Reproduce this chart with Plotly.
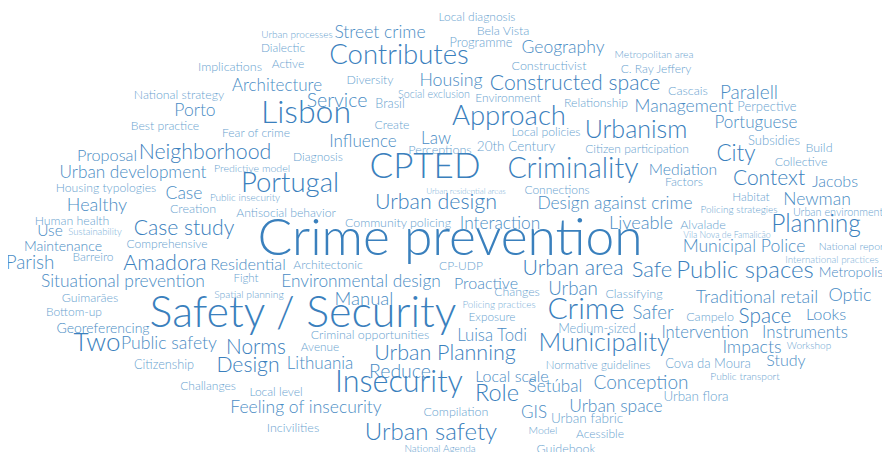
import plotly.graph_objects as go

# word cloud terms, their centre on the 890x452 canvas and their weight (font px)
words = [
    "Local diagnosis", "Bela Vista", "Urban processes", "Street crime", "Programme",
    "Geography", "Metropolitan area", "Dialectic", "Contributes", "Implications",
    "Active", "Constructivist", "C. Ray Jeffery", "National strategy", "Architecture",
    "Diversity", "Housing", "Constructed space", "Cascais", "Paralell",
    "Social exclusion", "Environment", "Service", "Porto", "Brasil",
    "Relationship", "Management", "Perpective", "Lisbon", "Approach",
    "Best practice", "Create", "Local policies", "Urbanism", "Portuguese",
    "Law", "Fear of crime", "Influence", "Perceptions", "20th Century",
    "Citizen participation", "Subsidies", "Build", "Proposal", "Neighborhood",
    "Diagnosis", "CPTED", "Criminality", "City", "Collective",
    "Urban development", "Predictive model", "Mediation", "Factors", "Urban residential areas",
    "Connections", "Context", "Jacobs", "Housing typologies", "Case",
    "Portugal", "Public insecurity", "Habitat", "Newman", "Healthy",
    "Creation", "Urban design", "Design against crime", "Policing strategies", "Urban environment",
    "Antisocial behavior", "Human health", "Community policing", "Interaction", "Liveable",
    "Alvalade", "Planning", "Use", "Sustainability", "Case study",
    "Crime prevention", "Vila Nova de Famalicão", "Municipal Police", "National report", "Maintenance",
    "Comprehensive", "Barreiro", "Parish", "Amadora", "Residential",
    "Architectonic", "CP-UDP", "Urban area", "Safe", "Public spaces",
    "International practices", "Metropolis", "Fight", "Situational prevention", "Environmental design",
    "Proactive", "Urban", "Classifying", "Guimarães", "Spatial planning",
    "Manual", "Changes", "Traditional retail", "Optic", "Bottom-up",
    "Safety / Security", "Policing practices", "Crime", "Safer", "Campelo",
    "Space", "Looks", "Exposure", "Georeferencing", "Medium-sized",
    "Criminal opportunities", "Intervention", "Instruments", "Two", "Public safety",
    "Norms", "Avenue", "Luisa Todi", "Municipality", "Impacts",
    "Workshop", "Urban Planning", "Citizenship", "Design", "Lithuania",
    "Study", "Cova da Moura", "Reduce", "Insecurity", "Normative guidelines",
    "Challanges", "Local scale", "Conception", "Public transport", "Local level",
    "Role", "Setúbal", "Urban space", "Urban flora", "Feeling of insecurity",
    "Compilation", "GIS", "Urban fabric", "Model", "Acessible",
    "Incivilities", "Urban safety", "Guidebook", "National Agenda",
]
word_x = [
    477, 503, 297, 380, 481,
    563, 654, 283, 399, 230,
    288, 549, 656, 179, 277,
    370, 451, 575, 688, 749,
    434, 508, 337, 195, 390,
    596, 684, 767, 306, 509,
    165, 392, 546, 636, 756,
    436, 256, 363, 440, 516,
    637, 774, 819, 107, 205,
    318, 425, 573, 736, 801,
    133, 252, 683, 684, 466,
    557, 769, 835, 106, 184,
    290, 245, 751, 817, 97,
    193, 436, 615, 739, 838,
    286, 72, 398, 500, 641,
    703, 816, 50, 95, 184,
    450, 727, 744, 853, 63,
    167, 93, 30, 165, 248,
    328, 461, 573, 652, 745,
    832, 851, 246, 123, 361,
    486, 573, 634, 90, 249,
    364, 517, 757, 850, 74,
    303, 499, 586, 653, 710,
    765, 826, 492, 103, 597,
    370, 705, 805, 97, 169,
    256, 320, 492, 604, 752,
    809, 445, 164, 248, 320,
    786, 708, 400, 399, 598,
    208, 512, 641, 745, 276,
    497, 555, 616, 696, 306,
    456, 534, 587, 543, 600,
    293, 431, 566, 440,
]
word_y = [
    14, 28, 31, 30, 40,
    45, 51, 45, 53, 64,
    61, 63, 66, 92, 83,
    77, 78, 81, 88, 90,
    91, 95, 98, 108, 101,
    100, 104, 104, 111, 114,
    123, 122, 129, 128, 120,
    136, 130, 139, 147, 144,
    146, 138, 145, 153, 150,
    154, 165, 167, 151, 159,
    170, 165, 167, 179, 188,
    187, 176, 179, 185, 191,
    181, 194, 194, 197, 202,
    206, 200, 201, 206, 209,
    210, 218, 220, 221, 220,
    222, 222, 228, 229, 226,
    238, 232, 244, 243, 243,
    241, 254, 260, 261, 262,
    262, 263, 266, 267, 268,
    257, 269, 275, 279, 279,
    281, 286, 291, 295, 291,
    296, 289, 295, 292, 309,
    312, 302, 307, 310, 314,
    314, 312, 314, 325, 326,
    332, 330, 330, 340, 341,
    345, 344, 333, 341, 345,
    342, 351, 362, 363, 361,
    358, 361, 369, 380, 362,
    383, 374, 380, 373, 389,
    391, 384, 404, 394, 405,
    409, 410, 416, 427, 431,
    425, 430, 446, 445,
]
weights = [
    12, 12.5, 10, 17.5, 12.8,
    17.5, 10.3, 11.8, 27.5, 12.5,
    12, 12.5, 12, 12.3, 17,
    12.3, 17.8, 21.2, 12.5, 19,
    10.7, 12, 19.5, 17.5, 12.7,
    12.2, 17.5, 13, 32, 27.5,
    12.2, 12.2, 12.2, 25, 17,
    17, 12, 17, 12.6, 13.5,
    12, 13, 12.5, 16.3, 21.3,
    12, 35, 28.5, 22.5, 12.4,
    17.2, 10.6, 15.7, 12.2, 8.1,
    12, 21, 16, 12.2, 17.5,
    27.5, 10, 11.8, 17.5, 18,
    12.5, 21.4, 17.4, 10, 10.8,
    12.2, 12.3, 12.4, 17.3, 18.2,
    12.6, 24.5, 15.5, 9.5, 21.2,
    51.5, 8.8, 17.6, 10.5, 14,
    12.1, 12, 18.8, 21.5, 16.3,
    12.2, 12, 21.3, 22, 24,
    9.8, 14, 11.5, 17.4, 17.3,
    16, 18.7, 12.5, 12.4, 10.3,
    18.5, 12.3, 17.9, 18, 12,
    43, 9.9, 30, 18.7, 12.5,
    20.8, 16.2, 11.8, 14, 12.8,
    12.4, 16.6, 16.8, 26, 17.6,
    20.8, 11.8, 16.7, 25, 17.8,
    10, 21.5, 12.7, 21.2, 17,
    16, 13, 19.5, 30.5, 11.5,
    12, 16, 19, 10.2, 12,
    23.5, 17, 17.4, 13.4, 17.5,
    12.5, 17, 13.5, 10.5, 12,
    12.5, 24, 12.5, 10,
]


def word_color(w):
    if w >= 20:
        return "#3a80bd"
    if w >= 14:
        return "#4a8cc4"
    if w >= 10:
        return "#6aa3cf"
    return "#7cb0d8"


fig = go.Figure(go.Scatter(
    x=word_x,
    y=word_y,
    text=words,
    mode="text",
    textposition="middle center",
    textfont=dict(family="Lato", size=weights, weight=300,
                  color=[word_color(w) for w in weights]),
    cliponaxis=False,
    hoverinfo="text",
))

# the page body keeps its default 8px margin, so the figure is 8px smaller;
# the y range is nudged so glyphs (not line boxes) centre on the reference
fig.update_layout(
    width=882,
    height=444,
    margin=dict(l=0, r=0, t=0, b=0),
    paper_bgcolor="white",
    plot_bgcolor="white",
    showlegend=False,
    xaxis=dict(range=[8, 890], visible=False, fixedrange=True),
    yaxis=dict(range=[448, 4], visible=False, fixedrange=True),
)

fig.write_html("out.html")
